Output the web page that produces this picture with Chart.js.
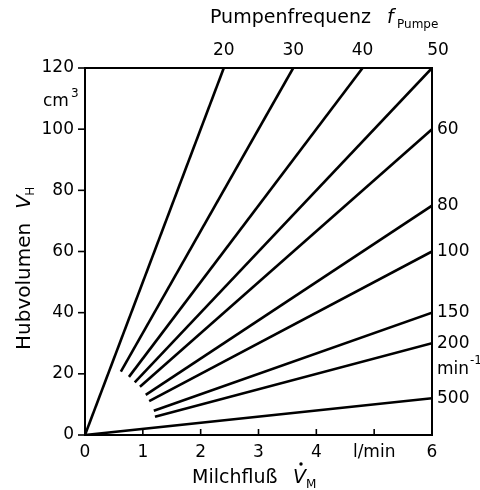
<!DOCTYPE html>
<html>
<head>
<meta charset="utf-8">
<script src="https://cdn.jsdelivr.net/npm/chart.js@4.4.0/dist/chart.umd.min.js"></script>
<style>
  html, body { margin: 0; padding: 0; background: #fff; }
  #wrap { width: 480px; height: 490px; }
</style>
</head>
<body>
<div id="wrap"><canvas id="chart"></canvas></div>
<script>
// pump frequency per line (min^-1) and line ends
let freq_labels = ['20', '30', '40', '50', '60', '80', '100', '150', '200', '500'];
let flow_start = [0, 0.62, 0.76, 0.86, 0.95, 1.05, 1.11, 1.19, 1.21, 0];
let vol_start = [0, 20.7, 19, 17.2, 15.8, 13.1, 11.1, 7.9, 6.0, 0];
let flow_end = [2.4, 3.6, 4.8, 6, 6, 6, 6, 6, 6, 6];
let vol_end = [120, 120, 120, 120, 100, 75, 60, 40, 30, 12];
let x_tick_labels = ['0', '1', '2', '3', '4', 'l/min', '6'];
let y_tick_values = [0, 20, 40, 60, 80, 100, 120];

let font_num = '17px "DejaVu Sans"';
let font_title = '19px "DejaVu Sans"';
let font_ytitle = '20px "DejaVu Sans"';
let font_sub = '12px "DejaVu Sans"';

let datasets = [];
for (var i = 0; i < freq_labels.length; i++) {
	datasets.push({
		label: freq_labels[i],
		data: [{x: flow_start[i], y: vol_start[i]}, {x: flow_end[i], y: vol_end[i]}],
		borderColor: '#000',
		borderWidth: 2.6,
		pointRadius: 0,
		showLine: true,
		fill: false
	});
}

let decorPlugin = {
	id: 'decor',
	afterDraw: function(chart) {
		let ctx = chart.ctx;
		let a = chart.chartArea;
		let xs = chart.scales.x;
		let ys = chart.scales.y;
		ctx.save();
		ctx.fillStyle = '#000';
		ctx.strokeStyle = '#000';

		// frame
		ctx.lineWidth = 2;
		ctx.strokeRect(a.left, a.top, a.right - a.left, a.bottom - a.top);

		// x ticks inward
		ctx.lineWidth = 1.6;
		for (var i = 1; i < x_tick_labels.length - 1; i++) {
			let px = xs.getPixelForValue(i);
			ctx.beginPath();
			ctx.moveTo(px, a.bottom);
			ctx.lineTo(px, a.bottom - 6);
			ctx.stroke();
		}
		// y ticks outward
		for (var i = 0; i < y_tick_values.length; i++) {
			let py = ys.getPixelForValue(y_tick_values[i]);
			ctx.beginPath();
			ctx.moveTo(a.left, py);
			ctx.lineTo(a.left - 7, py);
			ctx.stroke();
		}

		// x tick labels
		ctx.font = font_num;
		ctx.textAlign = 'center';
		ctx.textBaseline = 'middle';
		for (var i = 0; i < x_tick_labels.length; i++) {
			ctx.fillText(x_tick_labels[i], xs.getPixelForValue(i), a.bottom + 18);
		}
		// y tick labels
		ctx.textAlign = 'right';
		for (var i = 0; i < y_tick_values.length; i++) {
			ctx.fillText(String(y_tick_values[i]), a.left - 11, ys.getPixelForValue(y_tick_values[i]));
		}
		// cm3 unit
		ctx.textAlign = 'left';
		ctx.fillText('cm', 43, 102);
		ctx.font = font_sub;
		ctx.fillText('3', 71, 94);

		// frequency labels: top for lines hitting 120, right for the rest
		ctx.font = font_num;
		for (var i = 0; i < freq_labels.length; i++) {
			if (vol_end[i] >= 120) {
				ctx.textAlign = 'center';
				let px = xs.getPixelForValue(flow_end[i]);
				if (flow_end[i] >= 6) px += 6;
				ctx.fillText(freq_labels[i], px, a.top - 17);
			} else {
				ctx.textAlign = 'left';
				ctx.fillText(freq_labels[i], a.right + 5, ys.getPixelForValue(vol_end[i]));
			}
		}
		// min^-1 unit under 200
		ctx.textAlign = 'left';
		ctx.fillText('min', a.right + 5, ys.getPixelForValue(30) + 26);
		ctx.font = font_sub;
		ctx.fillText('-1', a.right + 5 + 33, ys.getPixelForValue(30) + 18);

		// top title
		ctx.textAlign = 'left';
		ctx.textBaseline = 'middle';
		ctx.font = font_title;
		ctx.fillText('Pumpenfrequenz', 210, 18);
		ctx.font = 'italic ' + font_title;
		ctx.fillText('f', 387, 18);
		ctx.font = font_sub;
		ctx.fillText('Pumpe', 397, 25);

		// x title
		ctx.font = font_title;
		ctx.fillText('Milchfluß', 192, 478);
		ctx.font = 'italic ' + font_title;
		ctx.fillText('V', 293, 478);
		ctx.beginPath();
		ctx.arc(301, 464, 1.7, 0, Math.PI * 2);
		ctx.fill();
		ctx.font = font_sub;
		ctx.fillText('M', 306, 485);

		// y title, rotated
		ctx.translate(25, 350);
		ctx.rotate(-Math.PI / 2);
		ctx.font = font_ytitle;
		ctx.fillText('Hubvolumen', 0, 0);
		let w = ctx.measureText('Hubvolumen').width;
		ctx.font = 'italic ' + font_ytitle;
		ctx.fillText('V', w + 14, 0);
		ctx.font = font_sub;
		ctx.fillText('H', w + 27, 6);
		ctx.restore();
	}
};

let chart = new Chart(document.getElementById('chart').getContext('2d'), {
	type: 'scatter',
	data: { datasets: datasets },
	options: {
		responsive: true,
		maintainAspectRatio: false,
		animation: false,
		layout: { padding: { left: 0, top: 68, right: 48, bottom: 0 } },
		plugins: { legend: { display: false }, tooltip: { enabled: false } },
		scales: {
			x: {
				type: 'linear', min: 0, max: 6,
				grid: { display: false, drawTicks: false },
				border: { display: false },
				ticks: { display: false },
				afterFit: function(scale) { scale.height = 55; }
			},
			y: {
				type: 'linear', min: 0, max: 120,
				grid: { display: false, drawTicks: false },
				border: { display: false },
				ticks: { display: false },
				afterFit: function(scale) { scale.width = 85; }
			}
		}
	},
	plugins: [decorPlugin]
});
</script>
</body>
</html>
